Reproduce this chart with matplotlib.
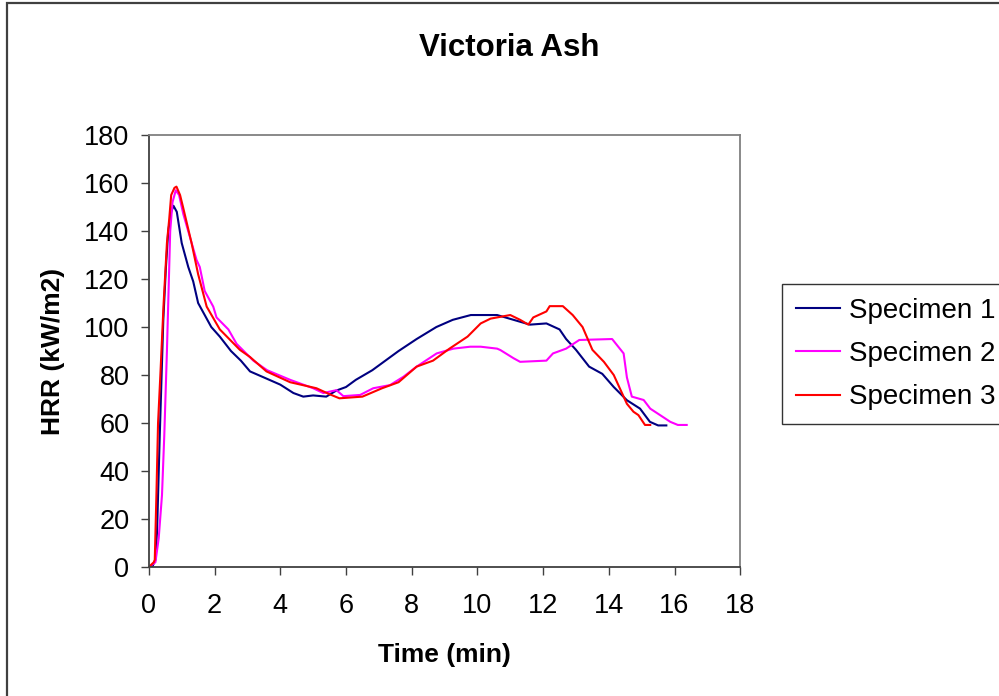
import matplotlib
matplotlib.use("Agg")
import matplotlib.pyplot as plt
from matplotlib.patches import Rectangle

plt.rcParams['font.family'] = ['Liberation Sans', 'DejaVu Sans']

# Specimen 1 (navy)
t1 = [0, 0.1, 0.2, 0.25, 0.33, 0.44, 0.52, 0.59, 0.68, 0.75, 0.85, 1.0, 1.2, 1.35,
      1.5, 1.7, 1.9, 2.16, 2.5, 2.8, 3.08, 3.5, 4.0, 4.4, 4.7, 5.0, 5.4, 5.7, 6.0,
      6.3, 6.8, 7.2, 7.6, 8.15, 8.75, 9.25, 9.8, 10.3, 10.6, 11.1, 11.6, 12.1, 12.5,
      12.7, 13.0, 13.4, 13.8, 14.15, 14.55, 14.95, 15.25, 15.5, 15.75]
hrr1 = [0, 0, 3, 15, 54, 103, 125, 140, 148, 150.5, 148, 135, 125, 119,
        110, 105, 100, 96, 90, 86, 81.5, 79, 76, 72.5, 71, 71.5, 71, 73.5, 75,
        78, 82, 86, 90, 95, 100, 103, 105, 105, 105, 103, 101, 101.5, 99,
        95, 90.5, 83.5, 80.5, 75, 69.5, 66, 60.5, 59, 59]

# Specimen 2 (magenta)
t2 = [0, 0.2, 0.3, 0.4, 0.47, 0.55, 0.6, 0.65, 0.72, 0.82, 0.92, 1.05, 1.25, 1.45,
      1.55, 1.7, 1.96, 2.06, 2.42, 2.67, 3.18, 3.6, 4.3, 5.0, 5.31, 5.71, 5.92, 6.43,
      6.83, 7.34, 7.75, 8.15, 8.76, 9.27, 9.78, 10.1, 10.6, 10.7, 11.1, 11.3, 12.1,
      12.3, 12.7, 13.1, 14.1, 14.45, 14.55, 14.7, 15.06, 15.26, 15.56, 15.87, 16.1, 16.37]
hrr2 = [0, 2, 12, 30, 55, 90, 115, 140, 152, 157, 155, 147, 137.5, 128,
        125, 115, 108.5, 104, 99, 93, 86, 82, 78, 74.5, 72.5, 73.7, 71.2, 71.7,
        74.5, 75.8, 79.3, 83.5, 89, 91, 91.8, 91.8, 91, 90.4, 87, 85.5, 86,
        89, 91, 94.6, 95, 89, 79, 71, 69.6, 66, 63.3, 60.5, 59.2, 59.2]

# Specimen 3 (red)
t3 = [0, 0.15, 0.18, 0.23, 0.28, 0.35, 0.45, 0.49, 0.55, 0.62, 0.68, 0.78, 0.84,
      0.95, 1.04, 1.3, 1.5, 1.76, 2.16, 2.77, 3.08, 3.58, 4.3, 5.1, 5.5, 5.8, 6.5,
      7.1, 7.6, 8.15, 8.65, 9.15, 9.7, 10.1, 10.4, 11.0, 11.3, 11.55, 11.7, 12.1,
      12.2, 12.6, 12.9, 13.2, 13.5, 13.85, 14.15, 14.35, 14.55, 14.75, 14.9, 15.1, 15.26]
hrr3 = [0, 2, 3, 30, 60, 80, 110, 120, 135, 145, 155, 158, 158.5,
        155, 150, 135, 122, 108.5, 99, 90.5, 87.5, 81.5, 77, 74.5, 72, 70.3, 71,
        74.5, 77, 83.5, 86, 91, 96, 101.5, 103.5, 105, 103, 101, 104, 106.5,
        108.7, 108.7, 105, 100, 90.5, 85.5, 80, 74, 68, 64.7, 63.3, 59.2, 59.2]

labels = ["Specimen 1", "Specimen 2", "Specimen 3"]
colors = ["#000080", "#FF00FF", "#FF0000"]

fig = plt.figure(figsize=(9.99, 6.96), dpi=100)
ax = fig.add_axes([0.149, 0.1853, 0.592, 0.6207])

# outer chart border (cut off at right and bottom)
fig.patches.append(Rectangle((7 / 999, -0.1), 1.2, 1.1 - 3 / 696,
                             transform=fig.transFigure, fill=False,
                             edgecolor="#404040", linewidth=1.6))

for t, v, lab, c in zip([t1, t2, t3], [hrr1, hrr2, hrr3], labels, colors):
    ax.plot(t, v, color=c, linewidth=1.5, label=lab)

ax.set_xlim(0, 18)
ax.set_ylim(0, 180)
ax.set_xticks(range(0, 19, 2))
ax.set_yticks(range(0, 181, 20))
ax.tick_params(direction="out", length=6, width=1, color="#404040", labelsize=19.5)
ax.tick_params(axis="x", pad=13)
ax.tick_params(axis="y", pad=8)
ax.spines["left"].set_color("#404040")
ax.spines["bottom"].set_color("#404040")
ax.spines["top"].set_color("#808080")
ax.spines["right"].set_color("#808080")
for s in ax.spines.values():
    s.set_linewidth(1.3)

ax.set_xlabel("Time (min)", fontsize=19, fontweight="bold", labelpad=17)
ax.set_ylabel("HRR (kW/m2)", fontsize=19, fontweight="bold", labelpad=14)
fig.text(509 / 999, 1 - 48 / 696, "Victoria Ash", fontsize=22.5, fontweight="bold",
         ha="center", va="center")

leg = fig.legend(loc="upper left", bbox_to_anchor=(782 / 999, 1 - 284 / 696),
                 fontsize=20, frameon=True, fancybox=False, handlelength=1.6,
                 borderpad=0.5, labelspacing=0.62, handletextpad=0.3,
                 borderaxespad=0)
leg.get_frame().set_edgecolor("black")
leg.get_frame().set_linewidth(1.0)

fig.savefig("out.png", dpi=100)
